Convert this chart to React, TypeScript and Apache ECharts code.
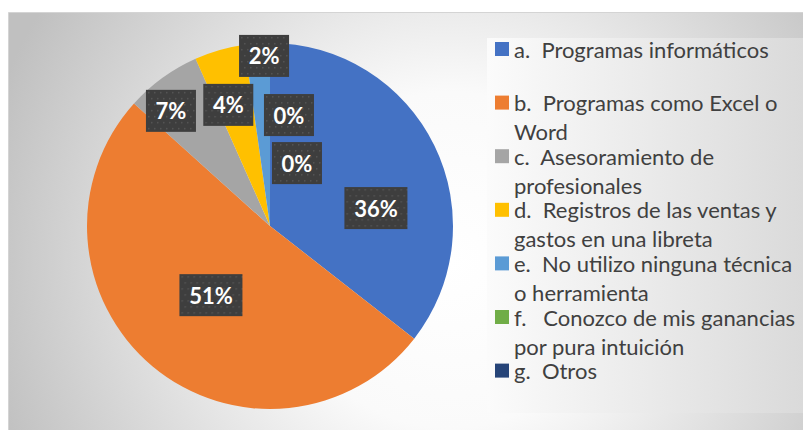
import React, { useEffect, useRef } from "react";
import * as echarts from "echarts";

// ---- data ----
const categories = [
  "a.  Programas informáticos",
  "b.  Programas como Excel o Word",
  "c.  Asesoramiento de profesionales",
  "d.  Registros de las ventas y gastos en una libreta",
  "e.  No utilizo ninguna técnica o herramienta",
  "f.   Conozco de mis ganancias por pura intuición",
  "g.  Otros",
];
const legendLines = [
  ["a.  Programas informáticos", " "],
  ["b.  Programas como Excel o", "Word"],
  ["c.  Asesoramiento de", "profesionales"],
  ["d.  Registros de las ventas y", "gastos en una libreta"],
  ["e.  No utilizo ninguna técnica", "o herramienta"],
  ["f.   Conozco de mis ganancias", "por pura intuición"],
  ["g.  Otros", " "],
];
const respuestas = [16, 23, 3, 2, 1, 0, 0];
const colors = ["#4472C4", "#ED7D31", "#A5A5A5", "#FFC000", "#5B9BD5", "#70AD47", "#264478"];

// label placement: [angle from 12 o'clock clockwise (deg), fraction of radius]
const labelPolar = [
  [80.4, 0.587],
  [220.5, 0.497],
  [319.3, 0.83],
  [341, 0.7],
  [358, 0.93],
  [9.7, 0.615],
  [23.2, 0.374],
];

const CX = 270;
const CY = 226;
const R = 183;
const BOX_H = 42;
const PAD_X = 10;

const patternCache: Record<number, string> = {};
function makePattern(w: number, h: number): any {
  if (patternCache[w]) return { image: patternCache[w] };
  try {
    const c = document.createElement("canvas");
    c.width = w;
    c.height = h;
    const ctx = c.getContext("2d");
    if (!ctx) return "#404040";
    ctx.fillStyle = "#3e3e3e";
    ctx.fillRect(0, 0, w, h);
    ctx.fillStyle = "#565656";
    for (let y = 2; y < h; y += 6) {
      for (let x = 2; x < w; x += 6) {
        const off = (Math.floor(y / 6) % 2) * 3;
        ctx.fillRect(x + off, y, 1.5, 1.5);
      }
    }
    patternCache[w] = c.toDataURL();
    return { image: patternCache[w] };
  } catch (e) {
    return "#404040";
  }
}

export default function App() {
  const ref = useRef<HTMLDivElement>(null);
  useEffect(() => {
    if (!ref.current) return;
    const chart = echarts.init(ref.current, undefined, { renderer: "svg" });
    const total = respuestas.reduce((s, v) => s + v, 0);
    chart.setOption({
      animation: false,
      graphic: [
        {
          type: "rect",
          z: -10,
          shape: { x: 8.5, y: 12.5, width: 795, height: 418 },
          style: {
            fill: new echarts.graphic.RadialGradient(450, 260, 480, [
              { offset: 0, color: "#ffffff" },
              { offset: 0.35, color: "#fafafa" },
              { offset: 1, color: "#c0c0c0" },
            ], true),
            stroke: "#d4d4d4",
            lineWidth: 1,
          },
          silent: true,
        },
        {
          type: "rect",
          z: -9,
          shape: { x: 487, y: 38, width: 316, height: 375 },
          style: {
            fill: new echarts.graphic.LinearGradient(0, 0, 1, 0, [
              { offset: 0, color: "#fbfbfb" },
              { offset: 1, color: "#dadada" },
            ]),
          },
          silent: true,
        },
      ],
      legend: {
        orient: "vertical",
        left: 495,
        top: 5.5,
        padding: 0,
        itemWidth: 14,
        itemHeight: 14,
        itemGap: -33.4,
        icon: "rect",
        selectedMode: false,
        itemStyle: { borderWidth: 0 },
        data: categories,
        formatter: (name: string) => {
          const i = categories.indexOf(name);
          // a blank line on top keeps the first text line level with the marker
          return [" "].concat(legendLines[i]).join("\n");
        },
        textStyle: {
          fontFamily: "Lato",
          fontSize: 22,
          color: "#404040",
          lineHeight: 29,
        },
      },
      series: [
        {
          type: "pie",
          center: [CX, CY],
          radius: R,
          startAngle: 90,
          clockwise: true,
          avoidLabelOverlap: false,
          emphasis: { disabled: true },
          itemStyle: { borderWidth: 0 },
          data: categories.map((name, i) => {
            const digits = String(Math.round((respuestas[i] / total) * 100)).length;
            const w = digits > 1 ? 43 : 30;
            return {
              name,
              value: respuestas[i],
              itemStyle: { color: colors[i] },
              label: {
                width: w,
                backgroundColor: makePattern(w + 2 * PAD_X, BOX_H),
              },
            };
          }),
          label: {
            show: true,
            position: "inside",
            formatter: (p: any) => Math.round(p.percent) + "%",
            fontFamily: "Lato",
            fontWeight: "bold",
            fontSize: 22,
            color: "#ffffff",
            lineHeight: 26,
            height: 26,
            overflow: "none",
            align: "center",
            padding: [8, PAD_X, 8, PAD_X],
            shadowColor: "rgba(0,0,0,0.55)",
            shadowBlur: 5,
            shadowOffsetX: 3,
            shadowOffsetY: 3,
          },
          labelLine: { show: false },
          labelLayout: (params: any) => {
            const [ang, frac] = labelPolar[params.dataIndex];
            const a = (ang * Math.PI) / 180;
            return {
              x: CX + R * frac * Math.sin(a),
              y: CY - R * frac * Math.cos(a),
              align: "center",
              verticalAlign: "middle",
            };
          },
        },
      ],
    });
    return () => chart.dispose();
  }, []);
  return (
    <div
      ref={ref}
      style={{ position: "absolute", left: 0, top: 0, width: 803, height: 430 }}
    />
  );
}
